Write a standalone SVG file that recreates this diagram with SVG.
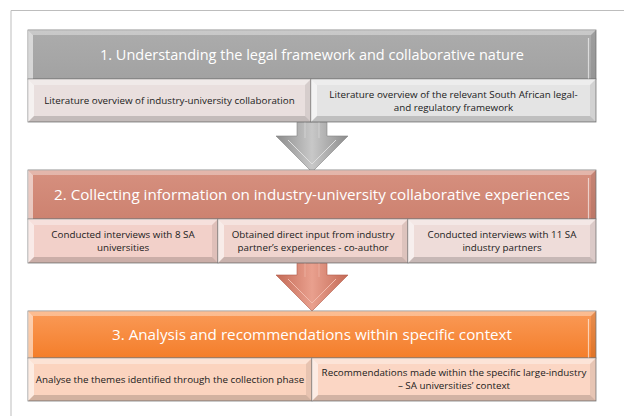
<svg xmlns="http://www.w3.org/2000/svg" width="624" height="416" viewBox="0 0 624 416">
<defs>
<style>
.frame{fill:none;stroke:#bdbdbd;stroke-width:1}
.hd{font-family:"Open Sans","Noto Sans",sans-serif;font-size:14.8px;fill:#fff;text-anchor:middle}
.sb{font-family:"Open Sans","Noto Sans",sans-serif;font-size:9.8px;fill:#1a1a1a;text-anchor:middle}
.ol{stroke:#7a7a7a;stroke-width:0.8}
.bt{fill:#fff;fill-opacity:.35}
.bl{fill:#fff;fill-opacity:.55}
.br{fill:#000;fill-opacity:.08}
.bb{fill:#000;fill-opacity:.16}
.hl{fill:none;stroke:#fff;stroke-opacity:.6;stroke-width:1.2}
</style>
<linearGradient id="gH1" x1="0" y1="0" x2="0" y2="1"><stop offset="0" stop-color="#acacac"/><stop offset="1" stop-color="#a2a2a2"/></linearGradient>
<linearGradient id="gH2" x1="0" y1="0" x2="0" y2="1"><stop offset="0" stop-color="#d6907f"/><stop offset="1" stop-color="#cd8270"/></linearGradient>
<linearGradient id="gH3" x1="0" y1="0" x2="0" y2="1"><stop offset="0" stop-color="#fa9a58"/><stop offset="1" stop-color="#f47e2a"/></linearGradient>
<linearGradient id="gA1" x1="0" y1="0" x2="1" y2="0"><stop offset="0" stop-color="#8c8c8c"/><stop offset=".5" stop-color="#c8c8c8"/><stop offset="1" stop-color="#8c8c8c"/></linearGradient>
<linearGradient id="gA2" x1="0" y1="0" x2="1" y2="0"><stop offset="0" stop-color="#c46a56"/><stop offset=".5" stop-color="#e9a08e"/><stop offset="1" stop-color="#c46a56"/></linearGradient>
</defs>

<path class="frame" d="M11,416 V10.5 H624"/>

<g id="connectors">
  <g id="arrow1">
    <path d="M297,122 H327 V136 H348 L312,172 L276,136 H297 Z" fill="url(#gA1)" stroke="#858585" stroke-width="0.6"/>
    <path d="M288,140 L312,164 L336,140" fill="none" stroke="#dedede" stroke-width="1"/>
    <path d="M305,122 V138 M319,122 V138" fill="none" stroke="#dcdcdc" stroke-width="1" stroke-opacity=".7"/>
  </g>
  <g id="arrow2">
    <path d="M297,263 H327 V275 H348 L312,311 L276,275 H297 Z" fill="url(#gA2)" stroke="#b25d4a" stroke-width="0.6"/>
    <path d="M288,279 L312,303 L336,279" fill="none" stroke="#f2bcae" stroke-width="1"/>
    <path d="M305,263 V277 M319,263 V277" fill="none" stroke="#efb8aa" stroke-width="1" stroke-opacity=".7"/>
  </g>
</g>

<g id="step1">
  <rect class="ol" x="28" y="30" width="568" height="49" fill="url(#gH1)"/>
  <polygon class="bt" points="28,30 596,30 591,35 33,35"/>
  <polygon class="bl" points="28,30 33,35 33,79 28,79"/>
  <polygon class="br" points="596,30 596,79 591,79 591,35"/>
  <path class="hl" d="M588.5,38 V79"/>
  <text class="hd" x="312" y="60" textLength="424" lengthAdjust="spacingAndGlyphs">1. Understanding the legal framework and collaborative nature</text>
</g>
<g id="step1a">
  <rect class="ol" x="28" y="79" width="283" height="43" fill="#e9dfde"/>
  <polygon class="bt" points="28,79 311,79 305,85 34,85"/>
  <polygon class="bl" points="28,79 34,85 34,116 28,122"/>
  <polygon class="br" points="311,79 311,122 305,116 305,85"/>
  <polygon class="bb" points="28,122 34,116 305,116 311,122"/>
  <text class="sb" x="169.5" y="104">Literature overview of industry-university collaboration</text>
</g>
<g id="step1b">
  <rect class="ol" x="311" y="79" width="285" height="43" fill="#e4e4e4"/>
  <polygon class="bt" points="311,79 596,79 590,85 317,85"/>
  <polygon class="bl" points="311,79 317,85 317,116 311,122"/>
  <polygon class="br" points="596,79 596,122 590,116 590,85"/>
  <polygon class="bb" points="311,122 317,116 590,116 596,122"/>
  <text class="sb" x="453.5" y="97.5">Literature overview of the relevant South African legal-</text>
  <text class="sb" x="453.5" y="110.5">and regulatory framework</text>
</g>

<g id="step2">
  <rect class="ol" x="28" y="170" width="568" height="49" fill="url(#gH2)"/>
  <polygon class="bt" points="28,170 596,170 591,175 33,175"/>
  <polygon class="bl" points="28,170 33,175 33,219 28,219"/>
  <polygon class="br" points="596,170 596,219 591,219 591,175"/>
  <path class="hl" d="M588.5,178 V219"/>
  <text class="hd" x="312" y="200" textLength="516" lengthAdjust="spacingAndGlyphs">2. Collecting information on industry-university collaborative experiences</text>
</g>
<g id="step2a">
  <rect class="ol" x="28" y="219" width="190" height="44" fill="#f2d0c9"/>
  <polygon class="bt" points="28,219 218,219 212,225 34,225"/>
  <polygon class="bl" points="28,219 34,225 34,257 28,263"/>
  <polygon class="br" points="218,219 218,263 212,257 212,225"/>
  <polygon class="bb" points="28,263 34,257 212,257 218,263"/>
  <text class="sb" x="123" y="238">Conducted interviews with 8 SA</text>
  <text class="sb" x="123" y="251">universities</text>
</g>
<g id="step2b">
  <rect class="ol" x="218" y="219" width="190" height="44" fill="#f0d4ce"/>
  <polygon class="bt" points="218,219 408,219 402,225 224,225"/>
  <polygon class="bl" points="218,219 224,225 224,257 218,263"/>
  <polygon class="br" points="408,219 408,263 402,257 402,225"/>
  <polygon class="bb" points="218,263 224,257 402,257 408,263"/>
  <text class="sb" x="313" y="238">Obtained direct input from industry</text>
  <text class="sb" x="313" y="251">partner’s experiences - co-author</text>
</g>
<g id="step2c">
  <rect class="ol" x="408" y="219" width="188" height="44" fill="#eedcd9"/>
  <polygon class="bt" points="408,219 596,219 590,225 414,225"/>
  <polygon class="bl" points="408,219 414,225 414,257 408,263"/>
  <polygon class="br" points="596,219 596,263 590,257 590,225"/>
  <polygon class="bb" points="408,263 414,257 590,257 596,263"/>
  <text class="sb" x="502" y="238">Conducted interviews with 11 SA</text>
  <text class="sb" x="502" y="251">industry partners</text>
</g>

<g id="step3">
  <rect class="ol" x="28" y="311" width="568" height="47" fill="url(#gH3)"/>
  <polygon class="bt" points="28,311 596,311 591,316 33,316"/>
  <polygon class="bl" points="28,311 33,316 33,358 28,358"/>
  <polygon class="br" points="596,311 596,358 591,358 591,316"/>
  <path class="hl" d="M588.5,319 V358" stroke="#ffe9a0"/>
  <text class="hd" x="312" y="340" textLength="400" lengthAdjust="spacingAndGlyphs">3. Analysis and recommendations within specific context</text>
</g>
<g id="step3a">
  <rect class="ol" x="28" y="358" width="284" height="43" fill="#fbd4bf"/>
  <polygon class="bt" points="28,358 312,358 306,364 34,364"/>
  <polygon class="bl" points="28,358 34,364 34,395 28,401"/>
  <polygon class="br" points="312,358 312,401 306,395 306,364"/>
  <polygon class="bb" points="28,401 34,395 306,395 312,401"/>
  <text class="sb" x="170" y="383">Analyse the themes identified through the collection phase</text>
</g>
<g id="step3b">
  <rect class="ol" x="312" y="358" width="284" height="43" fill="#fbd6c4"/>
  <polygon class="bt" points="312,358 596,358 590,364 318,364"/>
  <polygon class="bl" points="312,358 318,364 318,395 312,401"/>
  <polygon class="br" points="596,358 596,401 590,395 590,364"/>
  <polygon class="bb" points="312,401 318,395 590,395 596,401"/>
  <text class="sb" x="454" y="376">Recommendations made within the specific large-industry</text>
  <text class="sb" x="454" y="389">– SA universities’ context</text>
</g>
</svg>
